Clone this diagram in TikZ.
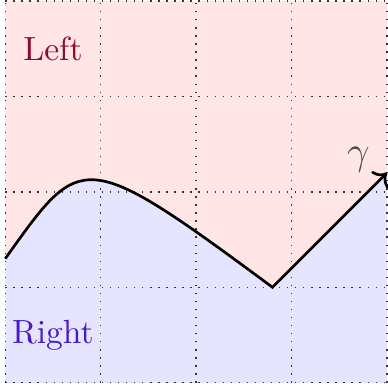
\documentclass[tikz,border=0pt]{standalone}
\usepackage{amsmath}
\usepackage{amssymb}
\usepackage{tikz}
\usetikzlibrary{arrows.meta,positioning,calc}
\definecolor{leftred}{rgb}{0.55,0.04,0.2}
\definecolor{rightblue}{rgb}{0.29,0.1,0.78}

\begin{document}
\begin{tikzpicture}[
  regionL/.style={fill=red!10},
  regionR/.style={fill=blue!10},
  gridline/.style={dotted, black!80},
  curve/.style={thick, ->},
  lab/.style={font=\normalsize}]
  \useasboundingbox (-0.055,-0.055) rectangle (4,4.01);
  \coordinate (st) at (0,1.3);
  \coordinate (vl) at (2.8,1);
  \coordinate (tp) at (4,2.2);
  \fill[regionL] (st) .. controls (0.8,2.42) and (0.8,2.48) .. (vl) -- (tp) -- (4,4) -- (0,4) -- cycle;
  \fill[regionR] (st) .. controls (0.8,2.42) and (0.8,2.48) .. (vl) -- (tp) -- (4,0) -- (0,0) -- cycle;
  \draw[gridline] (0,0) grid (4,4);
  \draw[curve] (st) .. controls (0.8,2.42) and (0.8,2.48) .. (vl) -- (tp);
  \node[lab, leftred] (left) at (0.5,3.5) {Left};
  \node[lab, rightblue] (right) at (0.5,0.5) {Right};
  \node[lab, black!70, font=\large] (gam) at (3.7,2.34) {$\gamma$};
\end{tikzpicture}
\end{document}
